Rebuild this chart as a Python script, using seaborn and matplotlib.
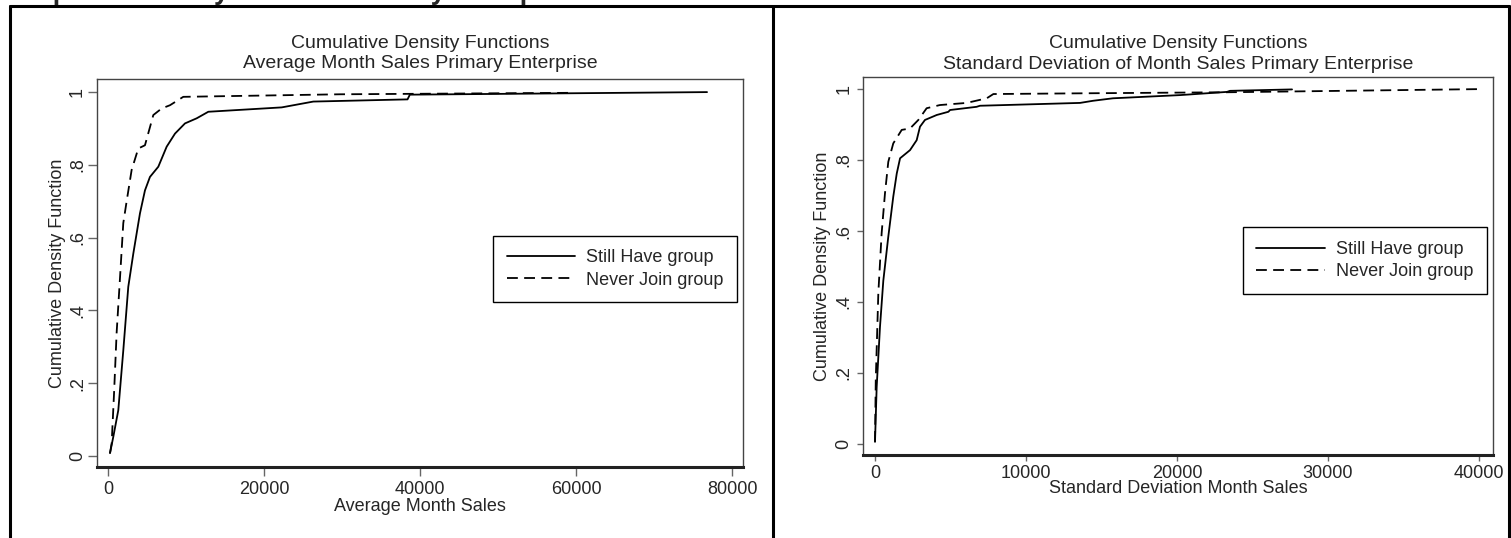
import numpy as np
import pandas as pd
import seaborn as sns
import matplotlib.pyplot as plt
from matplotlib.lines import Line2D

# values
avg_still_x = [256, 680, 1320, 1960, 2600, 3250, 4100, 4740, 5380, 6450, 7520, 8590,
               9870, 11370, 12860, 22270, 26320, 38400, 38700, 76800]
avg_still_y = [0.008, 0.053, 0.126, 0.29, 0.465, 0.557, 0.667, 0.73, 0.767, 0.795, 0.85, 0.886,
               0.914, 0.928, 0.946, 0.958, 0.974, 0.980, 0.993, 1.0]
avg_never_x = [256, 470, 770, 1110, 1540, 1960, 2390, 3030, 3880, 4740, 5810, 6880,
               7950, 9650, 29740, 59200]
avg_never_y = [0.008, 0.035, 0.17, 0.34, 0.49, 0.64, 0.70, 0.786, 0.845, 0.854, 0.937, 0.955,
               0.964, 0.987, 0.994, 0.998]

sd_still_x = [0, 110, 330, 550, 880, 1210, 1440, 1660, 2320, 2760, 2980, 3310, 4090, 4860,
              4970, 6730, 6950, 13580, 14440, 15760, 20200, 23310, 23510, 27620]
sd_still_y = [0.006, 0.16, 0.33, 0.46, 0.584, 0.697, 0.762, 0.805, 0.828, 0.856, 0.894, 0.913,
              0.927, 0.936, 0.941, 0.950, 0.953, 0.961, 0.967, 0.974, 0.983, 0.992, 0.995, 0.999]
sd_never_x = [0, 50, 220, 440, 660, 880, 1210, 1770, 2320, 2870, 3420, 4300, 6070, 7400,
              7840, 13580, 23310, 40260]
sd_never_y = [0.006, 0.18, 0.425, 0.594, 0.706, 0.795, 0.847, 0.885, 0.889, 0.913, 0.946, 0.955,
              0.961, 0.974, 0.986, 0.988, 0.991, 1.0]

groups = ['Still Have group', 'Never Join group']
y_ticks = [0, 0.2, 0.4, 0.6, 0.8, 1]
y_tick_labels = ['0', '.2', '.4', '.6', '.8', '1']


def make_frame(still_x, still_y, never_x, never_y):
    a = pd.DataFrame({'sales': still_x, 'cdf': still_y, 'group': groups[0]})
    b = pd.DataFrame({'sales': never_x, 'cdf': never_y, 'group': groups[1]})
    return pd.concat([a, b], ignore_index=True)


def draw_panel(ax, df, subtitle, xlabel, xticks, xlim, ylim, legend_anchor,
               tick_len, xpad, ypad, xlabelpad, ylabelpad, title_pad):
    sns.lineplot(data=df, x='sales', y='cdf', style='group', style_order=groups,
                 dashes={groups[0]: '', groups[1]: (6, 3.5)}, color='black',
                 linewidth=1.3, estimator=None, sort=False, ax=ax)
    ax.set_xlim(*xlim)
    ax.set_ylim(*ylim)
    ax.set_xticks(xticks)
    ax.set_xticklabels([str(t) for t in xticks])
    ax.set_yticks(y_ticks)
    ax.set_yticklabels(y_tick_labels, rotation=90, va='center')
    ax.tick_params(axis='both', bottom=True, left=True, direction='out', length=tick_len,
                   width=1, color='#666666', labelsize=13)
    ax.tick_params(axis='x', pad=xpad)
    ax.tick_params(axis='y', pad=ypad)
    ax.set_xlabel(xlabel, fontsize=13, labelpad=xlabelpad)
    ax.set_ylabel('Cumulative Density Function', fontsize=13, labelpad=ylabelpad)
    ax.set_title('Cumulative Density Functions\n' + subtitle, fontsize=14, pad=title_pad,
                 linespacing=1.25)
    for side in ['left', 'top', 'right']:
        ax.spines[side].set_color('#444444')
        ax.spines[side].set_linewidth(1)
    ax.spines['bottom'].set_color('#222222')
    ax.spines['bottom'].set_linewidth(2.2)
    handles = [Line2D([], [], color='black', lw=1.3),
               Line2D([], [], color='black', lw=1.3, dashes=(6, 3.5))]
    leg = ax.legend(handles, groups, loc='lower right', bbox_to_anchor=legend_anchor,
                    borderaxespad=0, fontsize=13, frameon=True, fancybox=False,
                    framealpha=1, edgecolor='black', handlelength=3.8, borderpad=0.75,
                    labelspacing=0.3, handletextpad=0.6)
    leg.get_frame().set_linewidth(1)


sns.set_theme(style='white')
plt.rcParams['font.family'] = ['Liberation Sans', 'DejaVu Sans']

fig = plt.figure(figsize=(15.11, 5.38), dpi=100)
ax1 = fig.add_axes([97 / 1511, 1 - 467 / 538, 646 / 1511, 388 / 538])
ax2 = fig.add_axes([863 / 1511, 1 - 455 / 538, 630 / 1511, 378 / 538])

draw_panel(ax1, make_frame(avg_still_x, avg_still_y, avg_never_x, avg_never_y),
           'Average Month Sales Primary Enterprise', 'Average Month Sales',
           [0, 20000, 40000, 60000, 80000], (-1410, 81410), (-0.030, 1.036),
           (0.991, 0.425), 6.5, 3.5, 1.5, 0, 2, 8)
draw_panel(ax2, make_frame(sd_still_x, sd_still_y, sd_never_x, sd_never_y),
           'Standard Deviation of Month Sales Primary Enterprise',
           'Standard Deviation Month Sales',
           [0, 10000, 20000, 30000, 40000], (-795, 40930), (-0.031, 1.034),
           (0.990, 0.426), 4.5, 3, 3, -2, 3, 6)

# outer frame of the two graphs
for xs, ys in [([10, 10], [6, 538]), ([10, 1509], [6, 6]), ([773, 773], [6, 538]),
               ([1509, 1509], [6, 538])]:
    fig.add_artist(Line2D([x / 1511 for x in xs], [1 - y / 538 for y in ys],
                          color='black', lw=2.2, transform=fig.transFigure))

# clipped heading above the frame
fig.text(0.004, 1 + 1 / 538, 'Graph 2: Monthly sales of Primary enterprise',
         fontsize=19.5, fontweight='bold', ha='left', va='baseline')

fig.savefig('out.png', dpi=100)
